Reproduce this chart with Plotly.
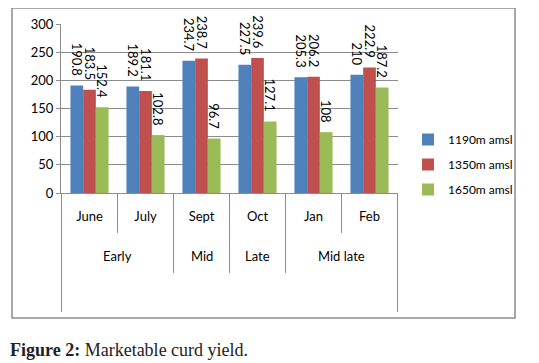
import plotly.graph_objects as go

groups = ["Early", "Mid", "Late", "Mid late"]
group_spans = [2, 1, 1, 2]
months = ["June", "July", "Sept", "Oct", "Jan", "Feb"]
series_names = ["1190m amsl", "1350m amsl", "1650m amsl"]
v1190 = [190.8, 189.2, 234.7, 227.5, 205.3, 210]
v1350 = [183.5, 181.1, 238.7, 239.6, 206.2, 222.9]
v1650 = [152.4, 102.8, 96.7, 127.1, 108, 187.2]
colors = ["#4F81BD", "#C0504D", "#9BBB59"]
y_ticks = [0, 50, 100, 150, 200, 250, 300]

FONT = "Lato"
GRID = "#8c8c8c"

# The page body has an 8px margin; work in reference pixels and shift.
OFF = 8
W, H = 539, 363
L, R, T, B = 61, 141, 24, 170          # plot area in reference pixels
pw, ph = W - L - R, H - T - B


def px_x(x):
    return (x - L) / pw


def px_y(y):
    return (H - B - y) / ph


fig = go.Figure()
for i, (name, vals, col) in enumerate(zip(series_names, [v1190, v1350, v1650], colors)):
    fig.add_trace(go.Bar(
        x=months, y=vals, name=name, marker_color=col,
        marker_line_width=0,
        text=[f"{v:g}\u00a0\u00a0" for v in vals], textposition="outside", textangle=90,
        constraintext="none", cliponaxis=False,
        textfont=dict(family=FONT, size=13, color="#000"),
        legendgroup=f"g{i}",
    ))

fig.update_layout(
    width=W - OFF, height=H - OFF,
    margin=dict(l=L - OFF, r=R, t=T - OFF, b=B, pad=0, autoexpand=False),
    paper_bgcolor="white", plot_bgcolor="white",
    barmode="group", bargap=0.32, bargroupgap=0,
    font=dict(family=FONT, size=13, color="#000"),
    showlegend=True,
    legend=dict(x=px_x(408), y=px_y(125), xanchor="left", yanchor="top",
                font=dict(family=FONT, size=12, color="#000"), tracegroupgap=6,
                traceorder="grouped", bgcolor="rgba(0,0,0,0)"),
    yaxis=dict(range=[0, 300], tickvals=y_ticks, showgrid=True, gridcolor=GRID,
               gridwidth=1, showline=True, linecolor=GRID, ticks="outside",
               ticklen=4, tickcolor=GRID, zeroline=False, fixedrange=True,
               automargin=False, tickfont=dict(family=FONT, size=13)),
    xaxis=dict(type="category", showline=True, linecolor=GRID,
               ticks="outside", ticklen=11, tickcolor="rgba(0,0,0,0)",
               automargin=False, tickfont=dict(family=FONT, size=13)),
)

# outer chart frame
fig.add_shape(type="rect", xref="paper", yref="paper",
              x0=px_x(12), x1=px_x(515), y0=px_y(318), y1=px_y(8),
              line=dict(color=GRID, width=1.5), layer="below")

n = len(months)
# month dividers
for k in range(1, n):
    fig.add_shape(type="line", xref="x", yref="paper", x0=k - 0.5, x1=k - 0.5,
                  y0=0, y1=px_y(233), line=dict(color=GRID, width=1))
# group dividers and labels
start = 0
bounds = []
for g, span in zip(groups, group_spans):
    fig.add_annotation(xref="x", yref="paper", x=start + (span - 1) / 2, y=px_y(256),
                       text=g, showarrow=False, xanchor="center", yanchor="middle",
                       font=dict(family=FONT, size=13, color="#000"))
    start += span
    bounds.append(start)
for b in bounds[:-1]:
    fig.add_shape(type="line", xref="x", yref="paper", x0=b - 0.5, x1=b - 0.5,
                  y0=0, y1=px_y(273), line=dict(color=GRID, width=1))
# outer edge lines
for b in (-0.5, n - 0.5):
    fig.add_shape(type="line", xref="x", yref="paper", x0=b, x1=b,
                  y0=0, y1=px_y(312), line=dict(color=GRID, width=1))

fig.add_annotation(xref="paper", yref="paper", x=px_x(8), y=px_y(350),
                   xanchor="left", yanchor="middle", showarrow=False,
                   text="<b>Figure 2:</b> Marketable curd yield.",
                   font=dict(family="Liberation Serif", size=18, color="#222"))

fig.write_html("out.html")
